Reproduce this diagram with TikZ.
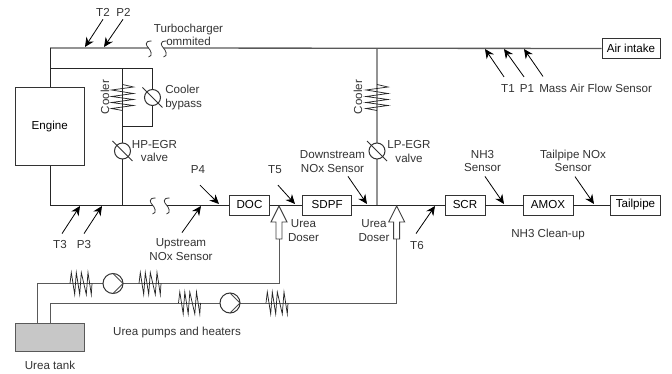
\documentclass[tikz,border=0pt]{standalone}
\usepackage{fontspec}
\setmainfont{Liberation Sans}
\usetikzlibrary{positioning, arrows.meta}

\tikzset{
    lbl/.style={inner sep=0pt, align=center, font=\fontsize{8.7pt}{9.9pt}\selectfont, text=black!80},
    unit/.style={draw=black!80, line width=0.65pt, minimum height=15pt, inner sep=0pt, font=\fontsize{8.7pt}{10pt}\selectfont},
    pipe/.style={draw=black!85, line width=0.65pt},
    airpipe/.style={draw=black!65, line width=1pt},
    tube/.style={draw=black!65, line width=0.7pt},
    sensor/.style={draw=black, line width=0.6pt, -{Stealth[length=7pt,width=6.5pt]}},
    coil/.style={draw=black!85, line width=0.55pt},
    pics/heater/.style={code={
        \path[coil] (-11,0) -- (-9.7,-11) -- (-6.3,11) -- (-4.7,-11) -- (-1.3,11) -- (0.3,-11) -- (5.3,11) -- (7,-11) -- (10.3,11) -- (11,0);
    }},
    pics/cooler/.style={code={
        \path[coil] (0,-13) -- (11,-10.5) -- (-11,-7.5) -- (11,-4) -- (-11,-1) -- (11,2) -- (-11,5) -- (11,8) -- (-11,11) -- (0,13);
    }},
    pics/valve/.style={code={
        \path[draw=black!80, line width=0.75pt, fill=white] (0,0) circle (8);
        \path[draw=black!80, line width=0.55pt] (-10,-10) -- (10,10);
    }},
    pics/pump/.style={code={
        \path[draw=black!80, line width=0.75pt, fill=white] (0,0) circle (10);
        \path[draw=black!70, line width=0.55pt] (0,-10) -- (10,0) -- (0,10);
    }},
    pics/cut/.style={code={
        \path[draw=black!80, line width=0.6pt] (3,-7) .. controls (-5,-7) and (-2,-2) .. (0,0) .. controls (2,2) and (5,8) .. (0,9);
    }},
    pics/doser/.style={code={
        \path[draw=black!75, line width=0.7pt, fill=white] (0,0) -- (8,16) -- (3,16) -- (3,33) -- (-3,33) -- (-3,16) -- (-8,16) -- cycle;
    }},
}

\begin{document}
\begin{tikzpicture}[x=0.75pt, y=-0.75pt]
    \useasboundingbox (0,0) rectangle (672,374);

    % boxes
    \node[unit, minimum width=51.5pt, minimum height=58.5pt] (engine) at (49.7,126.5) {Engine};
    \node[unit, minimum width=43.5pt] (intake) at (631,48.5) {Air intake};
    \node[unit, minimum width=29.5pt] (doc) at (249.5,205) {DOC};
    \node[unit, minimum width=37pt] (sdpf) at (327.2,205) {SDPF};
    \node[unit, minimum width=30pt] (scr) at (465,205) {SCR};
    \node[unit, minimum width=37.5pt] (amox) at (548,205) {AMOX};
    \node[unit, minimum width=37pt] (tailpipe) at (635.5,205) {Tailpipe};
    \node[draw=black!65, fill=black!22, line width=0.75pt, minimum width=51.5pt, minimum height=21.5pt, inner sep=0pt] (tank) at (49.7,337.5) {};

    % junctions on the pipes
    \coordinate (topleft) at (50,48);
    \coordinate (loopleft) at (50,68.5);
    \coordinate (hptop) at (122.5,68.5);
    \coordinate (bypasstop) at (152.5,68.5);
    \coordinate (bypassbot) at (152.5,126.5);
    \coordinate (hpmid) at (122.5,126.5);
    \coordinate (hpbot) at (122.5,205);
    \coordinate (botleft) at (50,205);
    \coordinate (lptop) at (377,48);
    \coordinate (lpbot) at (377,205);
    \coordinate (cuta) at (148.5,48);
    \coordinate (cutb) at (163.5,48);
    \coordinate (cutc) at (152.5,205);
    \coordinate (cutd) at (166.5,205);
    \coordinate (doseone) at (279,238);
    \coordinate (dosetwo) at (396.7,238);
    \coordinate (cornerone) at (279,283.5);
    \coordinate (cornertwo) at (396.7,303);
    \coordinate (tubeone) at (37,283.5);
    \coordinate (tubetwo) at (50,303);

    % pipes
    \path[airpipe] (topleft) -- (cuta)
                   (cutb) -- (intake.west)
                   (lptop) -- (lpbot);
    \path[pipe] (topleft) -- (engine.north -| topleft)
                (loopleft) -- (bypasstop) -- (bypassbot) -- (hpmid)
                (hptop) -- (hpbot)
                (engine.south -| botleft) -- (botleft) -- (cutc)
                (cutd) -- (doc.west)
                (doc.east) -- (sdpf.west)
                (sdpf.east) -- (scr.west)
                (scr.east) -- (amox.west)
                (amox.east) -- (tailpipe.west);
    \path[tube] (doseone) -- (cornerone) -- (tubeone) -- (tank.north -| tubeone)
                (dosetwo) -- (cornertwo) -- (tubetwo) -- (tank.north -| tubetwo);

    \pic at (cuta) {cut};
    \pic at (cutb) {cut};
    \pic at (cutc) {cut};
    \pic at (cutd) {cut};

    % coolers, valves, pumps, heaters
    \pic at (122.5,97.5) {cooler};
    \pic at (377,97.5) {cooler};
    \pic at (152.5,97.5) {valve};
    \pic at (122.5,151) {valve};
    \pic at (377,151) {valve};
    \pic at (81,283.5) {heater};
    \pic at (150,283.5) {heater};
    \pic at (189.5,303) {heater};
    \pic at (277,303) {heater};
    \pic at (113,283.5) {pump};
    \pic at (230,303) {pump};
    \pic at (279,206) {doser};
    \pic at (396.7,206) {doser};

    % sensor labels and their arrows
    \node[lbl] (ttwo) at (103,12) {T2};
    \node[lbl] (ptwo) at (123.5,12) {P2};
    \node[lbl] (turbo) at (188.5,34.5) {Turbocharger\\ommited};
    \node[lbl] (tone) at (508,88.5) {T1};
    \node[lbl] (pone) at (527,88.5) {P1};
    \node[lbl, anchor=west] (maf) at (539,88) {Mass Air Flow Sensor};
    \node[lbl] (tthree) at (60,245) {T3};
    \node[lbl] (pthree) at (84,245) {P3};
    \node[lbl] (upstream) at (181,249.5) {Upstream\\NOx Sensor};
    \node[lbl] (pfour) at (198,169.5) {P4};
    \node[lbl] (tfive) at (275,169.5) {T5};
    \node[lbl] (downstream) at (332.5,161.5) {Downstream\\NOx Sensor};
    \node[lbl] (nhsensor) at (482.5,161) {NH3\\Sensor};
    \node[lbl] (tailsensor) at (573,161) {Tailpipe NOx\\Sensor};
    \node[lbl] (tsix) at (417,245.5) {T6};

    \coordinate (ttwoend) at (85,47);
    \coordinate (ptwoend) at (104,47);
    \coordinate (toneend) at (485,49);
    \coordinate (poneend) at (504,49);
    \coordinate (mafend) at (524,49);
    \coordinate (tthreeend) at (80,206);
    \coordinate (pthreeend) at (102,206);
    \coordinate (upend) at (201,206);
    \coordinate (pfourend) at (219,204);
    \coordinate (tfiveend) at (295,204);
    \coordinate (downend) at (367,204);
    \coordinate (nhend) at (504,204);
    \coordinate (tailend) at (594,204);
    \coordinate (tsixend) at (435,206);

    \path[sensor] ([shift={(0,3)}]ttwo.south) -- (ttwoend);
    \path[sensor] ([shift={(-0.5,3)}]ptwo.south) -- (ptwoend);
    \path[sensor] ([shift={(-4,-7.4)}]tone.north) -- (toneend);
    \path[sensor] ([shift={(-3,-7.4)}]pone.north) -- (poneend);
    \path[sensor] ([shift={(4,-7)}]maf.north west) -- (mafend);
    \path[sensor] ([shift={(2,-7)}]tthree.north) -- (tthreeend);
    \path[sensor] ([shift={(0,-7)}]pthree.north) -- (pthreeend);
    \path[sensor] ([shift={(1,-6)}]upstream.north) -- (upend);
    \path[sensor] ([shift={(2,11.4)}]pfour.south) -- (pfourend);
    \path[sensor] ([shift={(3,11.4)}]tfive.south) -- (tfiveend);
    \path[sensor] ([shift={(15.5,4)}]downstream.south) -- (downend);
    \path[sensor] ([shift={(2.5,4.5)}]nhsensor.south) -- (nhend);
    \path[sensor] ([shift={(2,4.5)}]tailsensor.south) -- (tailend);
    \path[sensor] ([shift={(-1,-7.5)}]tsix.north) -- (tsixend);

    % other labels
    \node[lbl, rotate=90] (coolerhp) at (105,97) {Cooler};
    \node[lbl, rotate=90] (coolerlp) at (358,97) {Cooler};
    \node[lbl, anchor=west, align=left] (bypass) at (165,97.5) {Cooler\\bypass};
    \node[lbl] (hpegr) at (154.5,151) {HP-EGR\\valve};
    \node[lbl] (lpegr) at (409,151.5) {LP-EGR\\valve};
    \node[lbl] (doserone) at (303.5,230.5) {Urea\\Doser};
    \node[lbl] (dosertwo) at (374,230.5) {Urea\\Doser};
    \node[lbl] (cleanup) at (548,235) {NH3 Clean-up};
    \node[lbl] (heaters) at (177,333) {Urea pumps and heaters};
    \node[lbl] (tanklabel) at (50,365) {Urea tank};
\end{tikzpicture}
\end{document}
